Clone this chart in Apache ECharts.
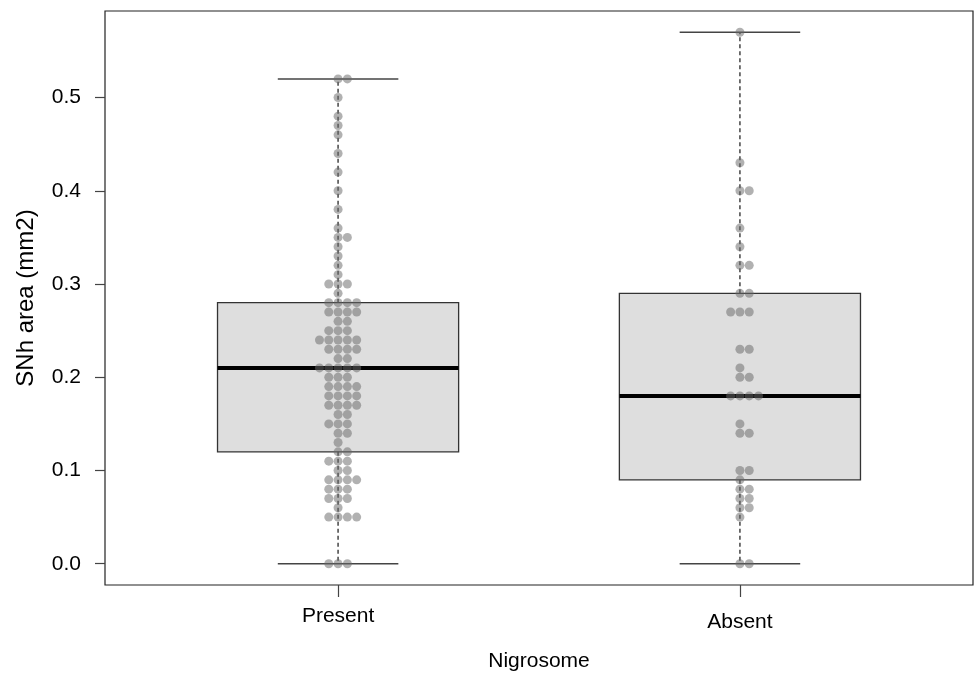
<!DOCTYPE html>
<html>
<head>
<meta charset="utf-8">
<title>SNh area by nigrosome</title>
<script src="https://cdn.jsdelivr.net/npm/echarts@6/dist/echarts.min.js"></script>
<style>
  html, body { margin: 0; padding: 0; background: #fff; }
  #chart { width: 974px; height: 679px; }
</style>
</head>
<body>
<div id="chart"></div>
<script>
// 分组
const groups = ['Present', 'Absent']

// 每个点的数值
const presentValues = [
  0, 0, 0,
  0.05, 0.05, 0.05, 0.05, 0.06, 0.07, 0.07, 0.07, 0.08, 0.08, 0.08,
  0.09, 0.09, 0.09, 0.09, 0.10, 0.10, 0.11, 0.11, 0.11, 0.12, 0.12, 0.13,
  0.14, 0.14, 0.15, 0.15, 0.15, 0.16, 0.16, 0.17, 0.17, 0.17, 0.17,
  0.18, 0.18, 0.18, 0.18, 0.19, 0.19, 0.19, 0.19, 0.20, 0.20, 0.20,
  0.21, 0.21, 0.21, 0.21, 0.21, 0.22, 0.22, 0.23, 0.23, 0.23, 0.23,
  0.24, 0.24, 0.24, 0.24, 0.24, 0.25, 0.25, 0.25, 0.26, 0.26,
  0.27, 0.27, 0.27, 0.27, 0.28, 0.28, 0.28, 0.28, 0.29, 0.30, 0.30, 0.30,
  0.31, 0.32, 0.33, 0.34, 0.35, 0.35, 0.36, 0.38, 0.40, 0.42, 0.44,
  0.46, 0.47, 0.48, 0.50, 0.52, 0.52
]

const absentValues = [
  0, 0,
  0.05, 0.06, 0.06, 0.07, 0.07, 0.08, 0.08, 0.09, 0.10, 0.10,
  0.14, 0.14, 0.15, 0.18, 0.18, 0.18, 0.18, 0.20, 0.20, 0.21,
  0.23, 0.23, 0.27, 0.27, 0.27, 0.29, 0.29, 0.32, 0.32, 0.34, 0.36,
  0.40, 0.40, 0.43, 0.57
]

// y 轴刻度
const yTicks = [0, 0.1, 0.2, 0.3, 0.4, 0.5]

const FONT = '"Liberation Sans", Arial, Helvetica, sans-serif'
const DOT_STEP = 9.3

// R 的 fivenum
const fivenum = (arr) => {
  const x = arr.slice().sort((a, b) => a - b)
  const n = x.length
  const n4 = Math.floor((n + 3) / 2) / 2
  const d = [1, n4, (n + 1) / 2, n + 1 - n4, n]
  return d.map(v => 0.5 * (x[Math.floor(v) - 1] + x[Math.ceil(v) - 1]))
}

// 箱线图统计：[x, 下须, Q1, 中位数, Q3, 上须]
const boxStats = (arr, xPos) => {
  const f = fivenum(arr)
  const iqr = f[3] - f[1]
  const lo = Math.min(...arr.filter(v => v >= f[1] - 1.5 * iqr - 1e-9))
  const hi = Math.max(...arr.filter(v => v <= f[3] + 1.5 * iqr + 1e-9))
  return [xPos, lo, f[1], f[2], f[3], hi]
}

// 蜂群点：同值的点左右排开
const swarm = (arr, xPos) => {
  const counts = {}
  arr.forEach(v => { counts[v.toFixed(2)] = (counts[v.toFixed(2)] || 0) + 1 })
  const seen = {}
  return arr.map(v => {
    const key = v.toFixed(2)
    const k = seen[key] || 0
    seen[key] = k + 1
    const shift = k - Math.floor((counts[key] - 1) / 2)
    return { value: [xPos, v], symbolOffset: [shift * DOT_STEP, 0] }
  })
}

const boxData = [boxStats(presentValues, 1), boxStats(absentValues, 2)]
const dotData = swarm(presentValues, 1).concat(swarm(absentValues, 2))

const renderBox = (params, api) => {
  const x = api.value(0)
  const half = api.size([0.3, 0])[0]
  const capHalf = api.size([0.15, 0])[0]
  const p = (v) => api.coord([x, v])
  const lo = p(api.value(1))
  const q1 = p(api.value(2))
  const med = p(api.value(3))
  const q3 = p(api.value(4))
  const hi = p(api.value(5))
  const cx = lo[0]
  const whisker = { stroke: '#444', lineWidth: 1.5, lineDash: [4, 3] }
  const solid = { stroke: '#444', lineWidth: 1.5 }
  return {
    type: 'group',
    children: [
      { type: 'rect', shape: { x: cx - half, y: q3[1], width: half * 2, height: q1[1] - q3[1] },
        style: { fill: '#dedede', stroke: '#333', lineWidth: 1.3 } },
      { type: 'line', shape: { x1: cx, y1: q3[1], x2: cx, y2: hi[1] }, style: whisker },
      { type: 'line', shape: { x1: cx, y1: q1[1], x2: cx, y2: lo[1] }, style: whisker },
      { type: 'line', shape: { x1: cx - capHalf, y1: hi[1], x2: cx + capHalf, y2: hi[1] }, style: solid },
      { type: 'line', shape: { x1: cx - capHalf, y1: lo[1], x2: cx + capHalf, y2: lo[1] }, style: solid },
      { type: 'line', shape: { x1: cx - half, y1: med[1], x2: cx + half, y2: med[1] },
        style: { stroke: '#000', lineWidth: 4 } }
    ]
  }
}

const chart = echarts.init(document.getElementById('chart'))
const option = {
  animation: false,
  backgroundColor: '#fff',
  textStyle: { fontFamily: FONT },
  grid: {
    left: 105,
    right: 1,
    top: 11,
    bottom: 94,
    show: true,
    borderColor: '#222',
    borderWidth: 1.2,
    backgroundColor: 'transparent'
  },
  xAxis: {
    type: 'value',
    min: 0.42,
    max: 2.58,
    name: 'Nigrosome',
    nameLocation: 'middle',
    nameGap: 66,
    nameTextStyle: { fontSize: 21, color: '#000', fontFamily: FONT },
    axisLine: { show: false, onZero: false },
    splitLine: { show: false },
    axisTick: {
      show: true,
      length: 12,
      customValues: [1, 2],
      lineStyle: { color: '#444', width: 1.2 }
    },
    axisLabel: {
      customValues: [1, 2],
      margin: 21,
      fontSize: 21,
      color: '#000',
      fontFamily: FONT,
      formatter: (v) => (v === 2 ? '{a|' + groups[1] + '}' : '{p|' + groups[0] + '}'),
      rich: {
        p: { fontSize: 21, fontFamily: FONT, color: '#000' },
        a: { fontSize: 21, fontFamily: FONT, color: '#000', padding: [6, 0, 0, 0] }
      }
    }
  },
  yAxis: {
    type: 'value',
    min: -0.0228,
    max: 0.5928,
    name: 'SNh area (mm2)',
    nameLocation: 'middle',
    nameRotate: 90,
    nameGap: 67,
    nameTextStyle: { fontSize: 24, color: '#000', fontFamily: FONT },
    axisLine: { show: false, onZero: false },
    splitLine: { show: false },
    axisTick: {
      show: true,
      length: 10,
      customValues: yTicks,
      lineStyle: { color: '#444', width: 1.2 }
    },
    axisLabel: {
      customValues: yTicks,
      margin: 24,
      fontSize: 21,
      color: '#000',
      fontFamily: FONT,
      formatter: (v) => v.toFixed(1)
    }
  },
  series: [
    {
      name: 'box',
      type: 'custom',
      z: 2,
      renderItem: renderBox,
      encode: { x: 0, y: [1, 2, 3, 4, 5] },
      data: boxData
    },
    {
      name: 'points',
      type: 'scatter',
      z: 3,
      symbol: 'circle',
      symbolSize: 9,
      itemStyle: { color: 'rgba(105, 105, 105, 0.65)' },
      data: dotData
    }
  ]
}
chart.setOption(option)
</script>
</body>
</html>
